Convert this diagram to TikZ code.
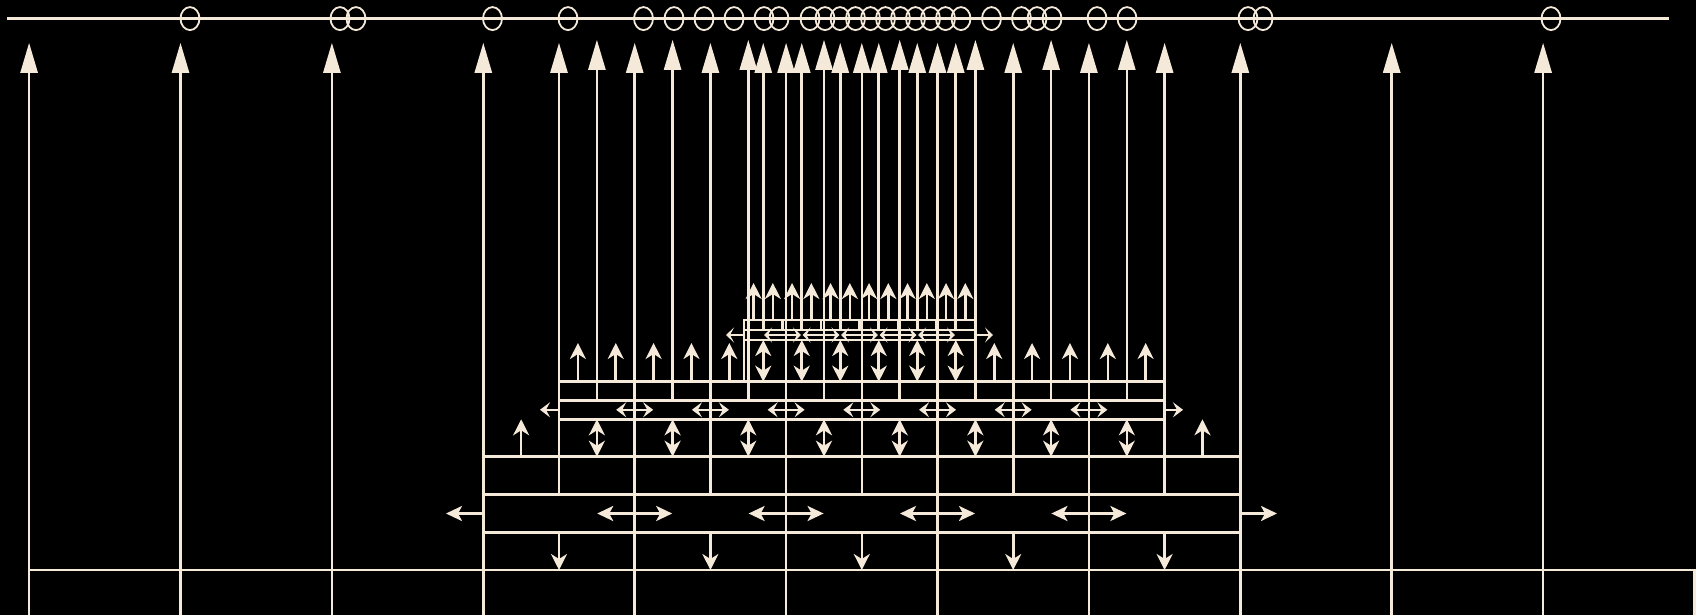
\documentclass[tikz,border=0pt]{standalone}
\usepackage{tikz}
\usetikzlibrary{arrows.meta}
\definecolor{meshcream}{RGB}{245,234,218}

\begin{document}
\begin{tikzpicture}[x=1pt, y=-1pt,
    grid/.style={draw=meshcream, line width=2.6pt},
    bubble/.style={draw=meshcream, line width=1.8pt},
    rise/.style={draw=meshcream, line width=2.6pt, -{Triangle[length=30pt, width=17pt]}},
    flux/.style={draw=meshcream, line width=2.6pt, -{Stealth[length=16pt, width=16pt, inset=5pt]}},
    vswap/.style={draw=meshcream, line width=2.6pt, {Stealth[length=16pt, width=16pt, inset=5pt]}-{Stealth[length=16pt, width=16pt, inset=5pt]}},
    hswap/.style={draw=meshcream, line width=2.6pt, {Stealth[length=#1, width=15pt, inset=4pt]}-{Stealth[length=#1, width=15pt, inset=4pt]}},
    hswap/.default=16pt,
    hout/.style={draw=meshcream, line width=2.6pt, -{Stealth[length=#1, width=15pt, inset=4pt]}},
    hout/.default=16pt]
    \useasboundingbox (0,0) rectangle (1696,615);
    \fill[black] (0,0) rectangle (1696,615);

    % Sample line on top
    \draw[grid] (7,18.6) -- (1669,18.6);
    \foreach \x in {190,340,356,492.5,568,643.5,674,704,734,764,779,810,825,840,855.5,870.5,885.5,900.5,915.5,930.5,945.5,961,991.5,1021.5,1037,1052,1097,1127,1248,1263,1551}
        \draw[bubble] (\x,18.6) ellipse [x radius=9.5pt, y radius=11.5pt];

    % Level 0 (coarse cells)
    \draw[grid] (29.1,615) -- (29.1,570) -- (1694.5,570) -- (1694.5,615);
    \foreach \i in {0,...,10}
        \draw[rise] ({29.1+151.4*\i},615) -- ({29.1+151.4*\i},42.8);

    % Level 1
    \draw[grid] (483.3,456.7) rectangle (1240.3,570);
    \draw[grid] (483.3,494.3) -- (1240.3,494.3);
    \draw[grid] (483.3,532.7) -- (1240.3,532.7);
    \foreach \i in {0,...,4} {
        \draw[rise] ({559+151.4*\i},494.3) -- ({559+151.4*\i},42.8);
        \draw[flux] ({559+151.4*\i},532.7) -- ({559+151.4*\i},570);
    }
    \foreach \x in {634.7,786.1,937.5,1088.9}
        \draw[hswap] ({\x-37.5},513.5) -- ({\x+37.5},513.5);
    \draw[hout] (483.3,513.5) -- (446,513.5);
    \draw[hout] (1240.3,513.5) -- (1277,513.5);
    \draw[flux] (521.15,456.7) -- (521.15,419.3);
    \draw[flux] (1202.45,456.7) -- (1202.45,419.3);

    % Level 2
    \draw[grid] (559,381.7) rectangle (1164.6,456.7);
    \draw[grid] (559,400.3) -- (1164.6,400.3);
    \draw[grid] (559,419.3) -- (1164.6,419.3);
    \foreach \i in {0,...,7} {
        \draw[rise] ({596.9+75.7*\i},400.3) -- ({596.9+75.7*\i},39.8);
        \draw[vswap] ({596.9+75.7*\i},419.3) -- ({596.9+75.7*\i},456.7);
    }
    \foreach \i in {0,1,2,3,4,11,12,13,14,15}
        \draw[flux] ({577.9+37.85*\i},381.7) -- ({577.9+37.85*\i},343);
    \foreach \i in {1,...,7}
        \draw[hswap=10pt] ({559+75.7*\i-18.5},409.8) -- ({559+75.7*\i+18.5},409.8);
    \draw[hout=10pt] (559,409.8) -- (540,409.8);
    \draw[hout=10pt] (1164.6,409.8) -- (1183,409.8);

    % Level 3 (finest)
    \draw[grid] (744,320) rectangle (975,381.7);
    \draw[grid] (744,330) -- (975,330);
    \draw[grid] (744,340) -- (975,340);
    \foreach \i in {1,...,5}
        \draw[grid] ({744+38.5*\i},320) -- ({744+38.5*\i},330);
    \foreach \i in {0,...,5} {
        \draw[rise] ({763.25+38.5*\i},330) -- ({763.25+38.5*\i},42.8);
        \draw[vswap] ({763.25+38.5*\i},340) -- ({763.25+38.5*\i},381.7);
    }
    \foreach \i in {0,...,11}
        \draw[flux] ({753.6+19.25*\i},320) -- ({753.6+19.25*\i},283);
    \foreach \i in {1,...,5}
        \draw[hswap=8pt] ({744+38.5*\i-18.5},335) -- ({744+38.5*\i+18.5},335);
    \draw[hout=8pt] (744,335) -- (726,335);
    \draw[hout=8pt] (975,335) -- (993,335);
\end{tikzpicture}
\end{document}
